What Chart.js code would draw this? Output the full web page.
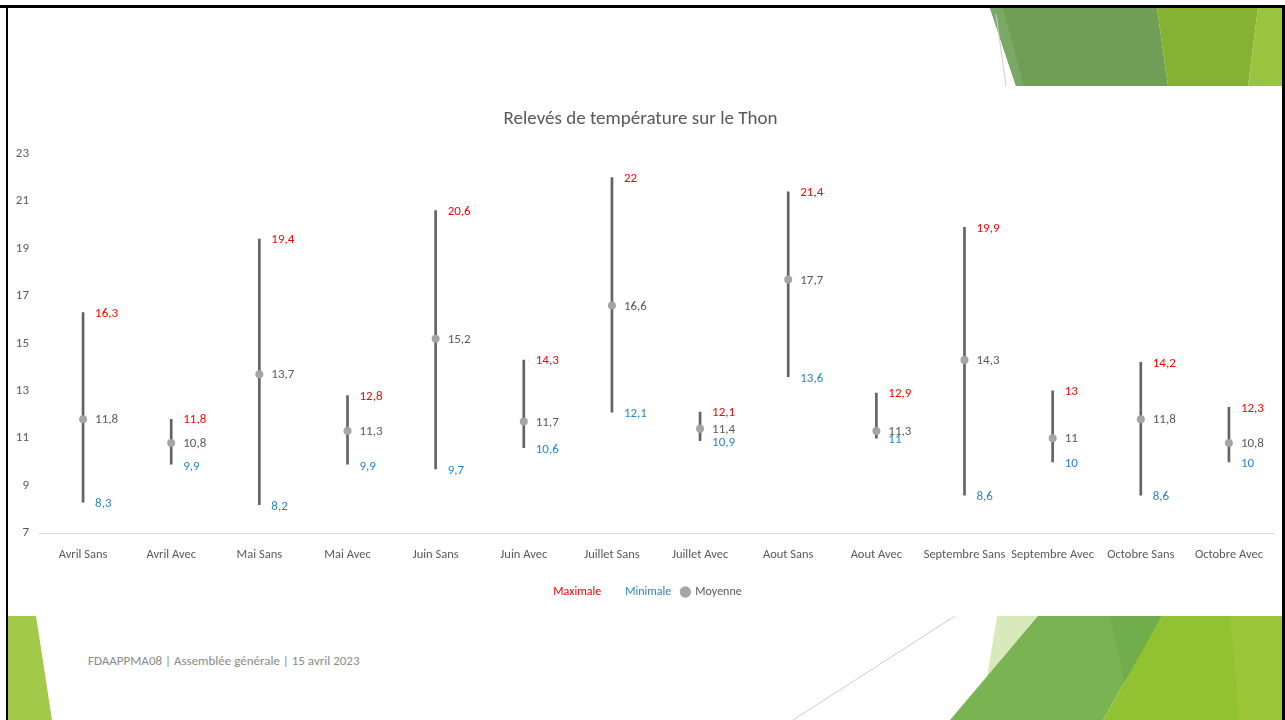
<!DOCTYPE html>
<html>
<head>
<meta charset="utf-8">
<script src="https://cdn.jsdelivr.net/npm/chart.js@4.4.0/dist/chart.umd.min.js"></script>
<style>
  body { margin: 0; width: 1285px; height: 720px; overflow: hidden; background: #fff; font-family: Carlito, Calibri, Lato, sans-serif; }
  #deco { position: absolute; left: 0; top: 0; }
  #wrap { position: absolute; left: 8px; top: 95px; width: 1275px; height: 520px; }
  #footer { position: absolute; left: 88px; top: 653px; font-size: 13px; color: #8a8a8a; }
</style>
</head>
<body>
<svg id="deco" width="1285" height="720">
  <polygon points="990,8 1157,8 1168,86 1016,86" fill="#6f9e56"/>
  <polygon points="990,8 1003,8 1024,86 1016,86" fill="#7aa867"/>
  <polygon points="1157,8 1258,8 1248,86 1168,86" fill="#85b233"/>
  <polygon points="1258,8 1283,8 1283,86 1248,86" fill="#98c43f"/>
  <line x1="996" y1="14" x2="1006" y2="86" stroke="#cfcfcf" stroke-width="1"/>
  <polygon points="8,616 36,616 52,720 8,720" fill="#a3c94a"/>
  <polygon points="997,616 1040,616 983,702" fill="#d8e9bb"/>
  <polygon points="1038,616 1162,616 1103,720 950,720" fill="#7ab452"/>
  <polygon points="1110,616 1162,616 1125,685" fill="#72ad4c"/>
  <polygon points="1162,616 1283,616 1283,720 1103,720" fill="#90c231"/>
  <polygon points="1230,616 1283,616 1283,720 1240,720" fill="#9bc63a"/>
  <line x1="955" y1="616" x2="793" y2="720" stroke="#cccccc" stroke-width="1"/>
  <rect x="0" y="5" width="1285" height="3" fill="#000"/>
  <rect x="6" y="5" width="2" height="715" fill="#000"/>
  <rect x="1282" y="5" width="3" height="715" fill="#000"/>
</svg>
<div id="wrap"><canvas id="chart"></canvas></div>
<div id="footer">FDAAPPMA08 | Assemblée générale | 15 avril 2023</div>
<script>
const categories = ['Avril Sans', 'Avril Avec', 'Mai Sans', 'Mai Avec', 'Juin Sans', 'Juin Avec', 'Juillet Sans',
  'Juillet Avec', 'Aout Sans', 'Aout Avec', 'Septembre Sans', 'Septembre Avec', 'Octobre Sans', 'Octobre Avec'];
const maxVals = [16.3, 11.8, 19.4, 12.8, 20.6, 14.3, 22, 12.1, 21.4, 12.9, 19.9, 13, 14.2, 12.3];
const minVals = [8.3, 9.9, 8.2, 9.9, 9.7, 10.6, 12.1, 10.9, 13.6, 11, 8.6, 10, 8.6, 10];
const meanVals = [11.8, 10.8, 13.7, 11.3, 15.2, 11.7, 16.6, 11.4, 17.7, 11.3, 14.3, 11, 11.8, 10.8];
const yTicks = [7, 9, 11, 13, 15, 17, 19, 21, 23];

const FONT = 'Carlito, Calibri, Lato, sans-serif';
const RED = '#ff0000', BLUE = '#2b84cf', GREY = '#595959';

// french decimal comma
const fmt = v => String(v).replace('.', ',');

const valueLabels = {
  id: 'valueLabels',
  afterDatasetsDraw(chart) {
    const ctx = chart.ctx, x = chart.scales.x, y = chart.scales.y;
    ctx.save();
    ctx.font = '13px ' + FONT;
    ctx.textBaseline = 'middle';
    ctx.textAlign = 'left';
    categories.forEach((c, i) => {
      const px = x.getPixelForValue(i) + 12;
      ctx.fillStyle = RED;
      ctx.fillText(fmt(maxVals[i]), px, y.getPixelForValue(maxVals[i]) + 1);
      ctx.fillStyle = BLUE;
      ctx.fillText(fmt(minVals[i]), px, y.getPixelForValue(minVals[i]) + 2);
      ctx.fillStyle = GREY;
      ctx.fillText(fmt(meanVals[i]), px, y.getPixelForValue(meanVals[i]) + 1);
    });
    ctx.restore();
  }
};

new Chart(document.getElementById('chart'), {
  type: 'line',
  data: {
    labels: categories,
    datasets: [
      {
        label: 'Moyenne', data: meanVals, showLine: false, order: 0,
        pointRadius: 4, pointHoverRadius: 4, pointBackgroundColor: '#a5a5a5', pointBorderWidth: 0
      },
      {
        label: 'Maximale', data: maxVals, showLine: false, pointRadius: 0, order: 1
      },
      {
        label: 'Minimale', data: minVals, showLine: false, pointRadius: 0, order: 1
      },
      {
        type: 'bar', label: 'range', order: 2,
        data: categories.map((c, i) => [minVals[i], maxVals[i]]),
        backgroundColor: '#636363', barThickness: 2, borderSkipped: false
      }
    ]
  },
  options: {
    responsive: true,
    maintainAspectRatio: false,
    animation: false,
    layout: { padding: { left: 0, right: 10, top: 0, bottom: 7 } },
    plugins: {
      tooltip: { enabled: false },
      title: {
        display: true, text: 'Relevés de température sur le Thon',
        color: GREY, font: { family: FONT, size: 19, weight: 'normal' },
        padding: { top: 13, bottom: 23 }
      },
      legend: {
        position: 'bottom',
        labels: {
          usePointStyle: true, boxWidth: 8, boxHeight: 8, padding: 10,
          font: { family: FONT, size: 12 },
          generateLabels() {
            return [
              { text: 'Maximale', fontColor: RED, fillStyle: 'rgba(0,0,0,0)', strokeStyle: 'rgba(0,0,0,0)', lineWidth: 0, pointStyle: 'circle', datasetIndex: 1 },
              { text: 'Minimale', fontColor: BLUE, fillStyle: 'rgba(0,0,0,0)', strokeStyle: 'rgba(0,0,0,0)', lineWidth: 0, pointStyle: 'circle', datasetIndex: 2 },
              { text: 'Moyenne', fontColor: GREY, fillStyle: '#a5a5a5', strokeStyle: '#a5a5a5', lineWidth: 0, pointStyle: 'circle', datasetIndex: 0 }
            ];
          }
        }
      }
    },
    scales: {
      x: {
        offset: true,
        grid: { display: false, drawTicks: false },
        border: { display: true, color: '#d9d9d9', width: 1 },
        ticks: { color: GREY, font: { family: FONT, size: 12.5 }, padding: 14, maxRotation: 0, autoSkip: false }
      },
      y: {
        min: 7, max: 23,
        afterBuildTicks(s) { s.ticks = yTicks.map(v => ({ value: v })); },
        afterFit(s) { s.width = 31; },
        grid: { display: false, drawTicks: false },
        border: { display: false },
        ticks: { color: GREY, font: { family: FONT, size: 13 }, padding: 10 }
      }
    }
  },
  plugins: [valueLabels]
});
</script>
</body>
</html>
